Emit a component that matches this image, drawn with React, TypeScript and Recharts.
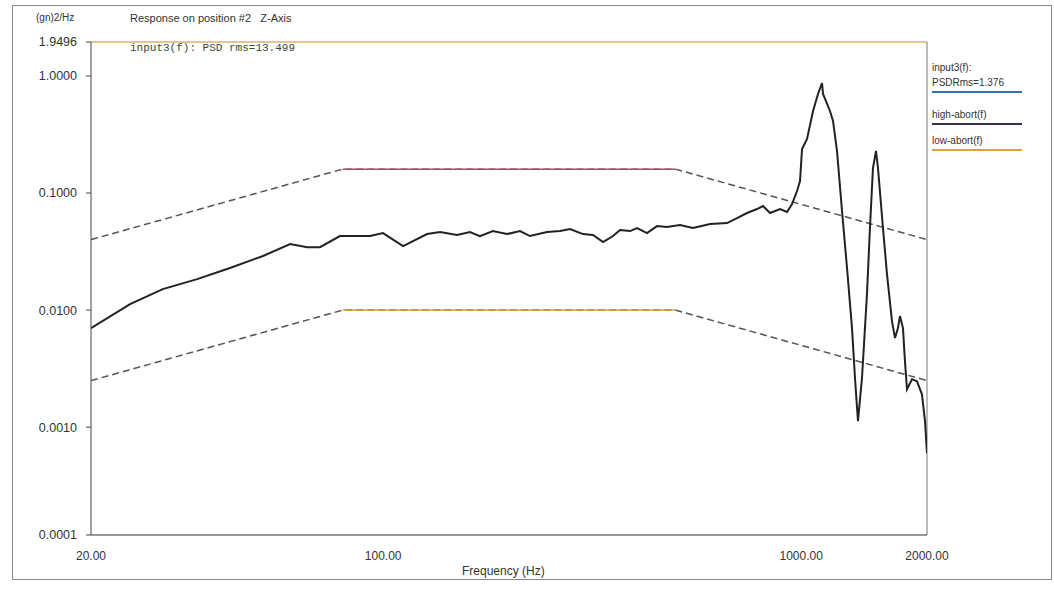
import { LineChart, Line, XAxis, YAxis, ReferenceLine } from "recharts";

// response PSD (Hz, g^2/Hz)
const inputFreq = [
  20, 24.8, 29.7, 35.9, 43.0, 51.6, 59.9, 65.8, 70.6, 78.8, 86.6, 93.0, 99.9, 111.6, 127.3, 136.8,
  150.2, 161.3, 170.4, 183.0, 197.8, 212.5, 224.5, 246.6, 265.0, 280.0, 300.6, 317.7, 335.7, 354.7,
  368.7, 389.6, 404.9, 427.8, 452.0, 477.6, 513.0, 551.0, 605.3, 664.7, 702.4, 742.1, 784.1, 810.5,
  842.3, 890.0, 925.1, 950.9, 977.5, 993.8, 1004.8, 1032.8, 1067.6, 1097.3, 1121.7, 1127.9, 1172.1,
  1191.7, 1218.3, 1252.4, 1287.3, 1323.2, 1345.2, 1367.4, 1397.9, 1437.0, 1460.7, 1485.2, 1510.0,
  1526.8, 1569.3, 1604.4, 1649.1, 1676.6, 1704.5, 1723.4, 1752.0, 1771.4, 1791.1, 1841.1, 1892.4,
  1945.2, 1978.0, 2000,
];
const inputPsd = [
  0.0070, 0.01125, 0.0151, 0.0184, 0.0229, 0.029, 0.0367, 0.0345, 0.0345, 0.0429, 0.0429, 0.0429,
  0.0455, 0.0352, 0.0446, 0.0464, 0.0438, 0.0464, 0.0429, 0.0473, 0.0446, 0.0473, 0.0429, 0.0464,
  0.0473, 0.0492, 0.0446, 0.0438, 0.0381, 0.0429, 0.0483, 0.0473, 0.0502, 0.0455, 0.0522, 0.0512,
  0.0533, 0.0502, 0.0543, 0.0554, 0.0611, 0.0675, 0.073, 0.0774, 0.0675, 0.073, 0.0688, 0.0805,
  0.104, 0.1266, 0.2377, 0.2894, 0.502, 0.702, 0.871, 0.702, 0.502, 0.4125, 0.2286, 0.0702, 0.0229,
  0.00702, 0.00262, 0.001125, 0.00262, 0.0137, 0.0502, 0.1636, 0.2286, 0.1636, 0.0502, 0.0203,
  0.00805, 0.00577, 0.00702, 0.00889, 0.00702, 0.00367, 0.00211, 0.00257, 0.00247, 0.00191,
  0.001125, 0.0006,
];

// abort profiles
const abortFreq = [20, 80, 500, 2000];
const highAbort = [0.04, 0.16, 0.16, 0.04];
const lowAbort = [0.0025, 0.01, 0.01, 0.0025];

const xTicks = [20, 100, 1000, 2000];
const yTicks = [0.00012, 0.001, 0.01, 0.1, 1, 1.9496];

const inputData = inputFreq.map((f, i) => ({ f, v: inputPsd[i] }));
const highData = abortFreq.map((f, i) => ({ f, v: highAbort[i] }));
const lowData = abortFreq.map((f, i) => ({ f, v: lowAbort[i] }));
const highFlat = highData.slice(1, 3);
const lowFlat = lowData.slice(1, 3);

const sans = "'Liberation Sans', Arial, sans-serif";
const mono = "'Liberation Mono', monospace";

const txt = (x: number, y: number, s: string, extra: any = {}) => (
  <div
    style={{
      position: "absolute",
      left: x,
      top: y,
      fontFamily: sans,
      fontSize: 11,
      color: "#333",
      whiteSpace: "pre",
      lineHeight: "12px",
      ...extra,
    }}
  >
    {s}
  </div>
);

export default function App() {
  return (
    <div
      style={{
        position: "absolute",
        left: 0,
        top: 0,
        width: 1054,
        height: 593,
        background: "#fff",
        overflow: "hidden",
      }}
    >
      <div
        style={{
          position: "absolute",
          left: 12,
          top: 5,
          width: 1040,
          height: 575,
          border: "1px solid #888",
          boxSizing: "border-box",
        }}
      />
      <LineChart
        width={1054}
        height={593}
        margin={{ top: 42, right: 127, bottom: 28, left: 0 }}
        style={{ position: "absolute", left: 0, top: 0 }}
      >
        <XAxis
          dataKey="f"
          type="number"
          scale="log"
          domain={[20, 2000]}
          ticks={xTicks}
          allowDataOverflow
          tickFormatter={(v: number) => v.toFixed(2)}
          tickLine={false}
          tickMargin={10}
          height={30}
          stroke="#333"
          tick={{ fontSize: 12, fontFamily: sans, fill: "#333" }}
        />
        <YAxis
          type="number"
          scale="log"
          domain={[0.00012, 1.9496]}
          ticks={yTicks}
          allowDataOverflow
          tickFormatter={(v: number) => v.toFixed(4)}
          width={91}
          tickSize={5}
          tickMargin={9}
          stroke="#444"
          tick={{ fontSize: 12.5, fontFamily: sans, fill: "#333" }}
        />
        <ReferenceLine y={1.9496} stroke="#e0b070" strokeWidth={1.5} />
        <ReferenceLine x={2000} stroke="#777" />
        <Line
          data={highData}
          dataKey="v"
          stroke="#555"
          strokeWidth={1.5}
          strokeDasharray="7 4"
          dot={false}
          isAnimationActive={false}
        />
        <Line
          data={highFlat}
          dataKey="v"
          stroke="#a0506a"
          strokeWidth={1.5}
          dot={false}
          isAnimationActive={false}
        />
        <Line
          data={lowData}
          dataKey="v"
          stroke="#555"
          strokeWidth={1.5}
          strokeDasharray="7 4"
          dot={false}
          isAnimationActive={false}
        />
        <Line
          data={lowFlat}
          dataKey="v"
          stroke="#d9a040"
          strokeWidth={1.5}
          dot={false}
          isAnimationActive={false}
        />
        <Line
          data={inputData}
          dataKey="v"
          stroke="#222"
          strokeWidth={2}
          dot={false}
          isAnimationActive={false}
        />
      </LineChart>

      {txt(36, 12, "(gn)2/Hz", { fontSize: 10 })}
      {txt(130, 12, "Response on position #2   Z-Axis")}
      {txt(130, 42, "input3(f): PSD rms=13.499", { fontFamily: mono, fontSize: 11, color: "#3a4a3a" })}

      {txt(932, 62, "input3(f):", { fontSize: 10 })}
      {txt(932, 77, "PSDRms=1.376", { fontSize: 10 })}
      <div style={{ position: "absolute", left: 932, top: 91, width: 90, height: 1.5, background: "#3a6fb0" }} />
      {txt(932, 109, "high-abort(f)", { fontSize: 10 })}
      <div style={{ position: "absolute", left: 932, top: 123, width: 90, height: 1.5, background: "#333355" }} />
      {txt(932, 135, "low-abort(f)", { fontSize: 10 })}
      <div style={{ position: "absolute", left: 932, top: 149, width: 90, height: 1.5, background: "#e0a040" }} />

      {txt(462, 565, "Frequency (Hz)", { fontSize: 12 })}
    </div>
  );
}
